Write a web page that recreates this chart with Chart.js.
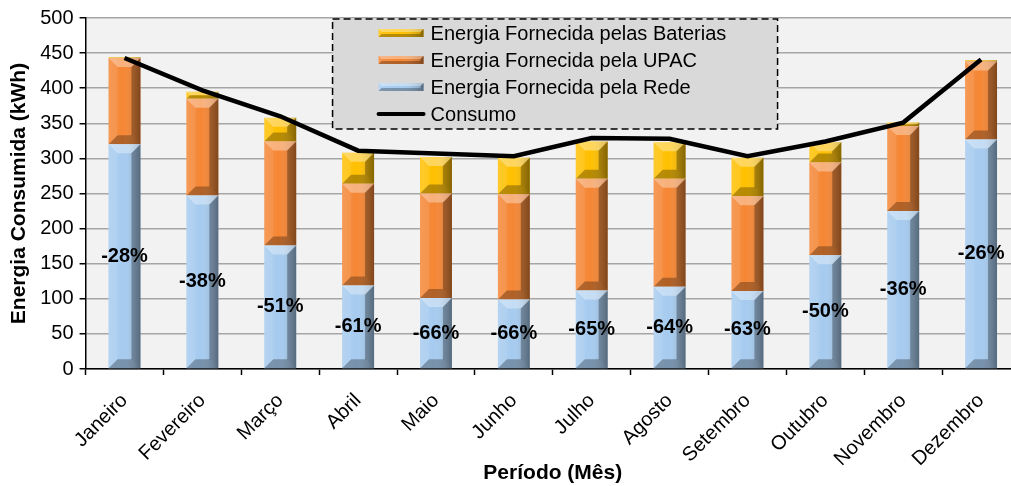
<!DOCTYPE html>
<html>
<head>
<meta charset="utf-8">
<script src="https://cdn.jsdelivr.net/npm/chart.js@4.4.1/dist/chart.umd.min.js"></script>
<style>
  html, body { margin: 0; padding: 0; background: #fff; overflow: hidden; width: 1011px; height: 486px; }
  canvas { display: block; }
</style>
</head>
<body>
<canvas id="chart" width="1020" height="486"></canvas>
<script>
// dados (kWh)
const meses = ["Janeiro", "Fevereiro", "Março", "Abril", "Maio", "Junho", "Julho", "Agosto", "Setembro", "Outubro", "Novembro", "Dezembro"];
const rede = [320, 247, 176, 119, 101, 99, 112, 117, 111, 162, 225, 327];
const upac = [123, 138, 148, 145, 149, 150, 159, 154, 135, 132, 121, 111];
const baterias = [1, 10, 34, 44, 52, 52, 53, 52, 55, 29, 5, 2];
const consumo = [443, 397, 360, 311, 307, 303, 329, 328, 303, 324, 351, 441];
const reducao = ["-28%", "-38%", "-51%", "-61%", "-66%", "-66%", "-65%", "-64%", "-63%", "-50%", "-36%", "-26%"];

const FONT = '"Liberation Sans", Arial, sans-serif';

// pinta um retangulo com efeito de chanfro (tipo Excel)
function bevel(ctx, l, t, r, b, s) {
  s = Math.min(s, (b - t) / 2, (r - l) / 2);
  if (s <= 0) return;
  const g = ctx.createLinearGradient(l, 0, r, 0);
  g.addColorStop(0, "rgba(255,255,255,0.10)");
  g.addColorStop(0.45, "rgba(255,255,255,0.0)");
  g.addColorStop(1, "rgba(0,0,0,0.25)");
  ctx.fillStyle = g;
  ctx.fillRect(l, t, r - l, b - t);
  const poly = (pts, fill) => {
    ctx.beginPath();
    ctx.moveTo(pts[0][0], pts[0][1]);
    for (let i = 1; i < pts.length; i++) ctx.lineTo(pts[i][0], pts[i][1]);
    ctx.closePath();
    ctx.fillStyle = fill;
    ctx.fill();
  };
  poly([[l, t], [r, t], [r - s, t + s], [l + s, t + s]], "rgba(255,255,255,0.35)");
  poly([[l, b], [r, b], [r - s, b - s], [l + s, b - s]], "rgba(0,0,0,0.28)");
  poly([[l, t], [l + s, t + s], [l + s, b - s], [l, b]], "rgba(255,255,255,0.08)");
  poly([[r, t], [r - s, t + s], [r - s, b - s], [r, b]], "rgba(0,0,0,0.30)");
}

const plotBg = {
  id: "plotBg",
  beforeDraw(chart) {
    const { ctx, chartArea: a } = chart;
    ctx.save();
    ctx.fillStyle = "#F2F2F2";
    ctx.fillRect(a.left, a.top, a.right - a.left, a.bottom - a.top);
    ctx.restore();
  }
};

const bevelBars = {
  id: "bevelBars",
  afterDatasetDraw(chart, args) {
    if (args.meta.type !== "bar") return;
    const ctx = chart.ctx;
    ctx.save();
    args.meta.data.forEach(el => {
      const p = el.getProps(["x", "y", "base", "width"], true);
      const l = p.x - p.width / 2, r = p.x + p.width / 2;
      const t = Math.min(p.y, p.base), b = Math.max(p.y, p.base);
      bevel(ctx, l, t, r, b, 9);
    });
    ctx.restore();
  }
};

const pctLabels = {
  id: "pctLabels",
  afterDatasetsDraw(chart) {
    const ctx = chart.ctx;
    const meta = chart.getDatasetMeta(0);
    ctx.save();
    ctx.font = "bold 20px " + FONT;
    ctx.fillStyle = "#000";
    ctx.textAlign = "center";
    ctx.textBaseline = "middle";
    meta.data.forEach((el, i) => {
      const p = el.getProps(["x", "y", "base"], true);
      ctx.fillText(reducao[i], p.x, (p.y + p.base) / 2);
    });
    ctx.restore();
  }
};

const legendBox = {
  id: "legendBox",
  afterDraw(chart) {
    const ctx = chart.ctx;
    const a = chart.chartArea;
    const x0 = a.left + 247, y0 = a.top + 1, w = 445, h = 110;
    ctx.save();
    ctx.fillStyle = "#D9D9D9";
    ctx.fillRect(x0, y0, w, h);
    ctx.setLineDash([7, 4]);
    ctx.lineWidth = 1.5;
    ctx.strokeStyle = "#000";
    ctx.strokeRect(x0, y0, w, h);
    ctx.setLineDash([]);
    const items = [
      { text: "Energia Fornecida pelas Baterias", color: "#FFC000", bar: true },
      { text: "Energia Fornecida pela UPAC", color: "#F58634", bar: true },
      { text: "Energia Fornecida pela Rede", color: "#A6CBEF", bar: true },
      { text: "Consumo", color: "#000", bar: false }
    ];
    ctx.font = "20px " + FONT;
    ctx.textBaseline = "middle";
    items.forEach((it, i) => {
      const cy = y0 + 14 + i * 27;
      const sx = x0 + 46, sw = 45;
      if (it.bar) {
        ctx.fillStyle = it.color;
        ctx.fillRect(sx, cy - 4, sw, 8);
        bevel(ctx, sx, cy - 4, sx + sw, cy + 4, 3);
      } else {
        ctx.strokeStyle = "#000";
        ctx.lineWidth = 4;
        ctx.lineCap = "round";
        ctx.beginPath();
        ctx.moveTo(sx, cy);
        ctx.lineTo(sx + sw, cy);
        ctx.stroke();
      }
      ctx.fillStyle = "#000";
      ctx.fillText(it.text, sx + 52, cy + 1);
    });
    ctx.restore();
  }
};

new Chart(document.getElementById("chart"), {
  data: {
    labels: meses,
    datasets: [
      { type: "bar", label: "Energia Fornecida pela Rede", data: rede, backgroundColor: "#A6CBEF", stack: "e", order: 1 },
      { type: "bar", label: "Energia Fornecida pela UPAC", data: upac, backgroundColor: "#F58634", stack: "e", order: 1 },
      { type: "bar", label: "Energia Fornecida pelas Baterias", data: baterias, backgroundColor: "#FFC000", stack: "e", order: 1 },
      { type: "line", label: "Consumo", data: consumo, borderColor: "#000", borderWidth: 4.5, pointRadius: 0, tension: 0, fill: false, order: 0 }
    ]
  },
  options: {
    responsive: false,
    animation: false,
    layout: { padding: { top: 3, left: 7, right: 0, bottom: 0 } },
    datasets: { bar: { barPercentage: 0.41, categoryPercentage: 1 } },
    plugins: { legend: { display: false }, tooltip: { enabled: false } },
    scales: {
      x: {
        stacked: true,
        offset: true,
        afterFit(scale) { scale.height = 117; },
        grid: { display: true, offset: true, drawOnChartArea: false, tickLength: 6, tickColor: "#000", tickWidth: 1.5 },
        border: { color: "#000", width: 1.5 },
        ticks: { color: "#000", font: { family: FONT, size: 20 }, minRotation: 45, maxRotation: 45, padding: 14, autoSkip: false },
        title: { display: true, text: "Período (Mês)", color: "#000", font: { family: FONT, size: 21, weight: "bold" }, padding: { top: 0, bottom: 0 } }
      },
      y: {
        stacked: true,
        min: 0,
        max: 500,
        grid: { color: "#A6A6A6", lineWidth: 1.5, tickLength: 6, tickColor: "#000", tickWidth: 1.5 },
        border: { color: "#000", width: 1.5 },
        ticks: { stepSize: 50, color: "#000", font: { family: FONT, size: 20 }, padding: 6 },
        title: { display: true, text: "Energia Consumida (kWh)", color: "#000", font: { family: FONT, size: 21, weight: "bold" }, padding: { top: 0, bottom: 2 } }
      }
    }
  },
  plugins: [plotBg, bevelBars, pctLabels, legendBox]
});
</script>
</body>
</html>
